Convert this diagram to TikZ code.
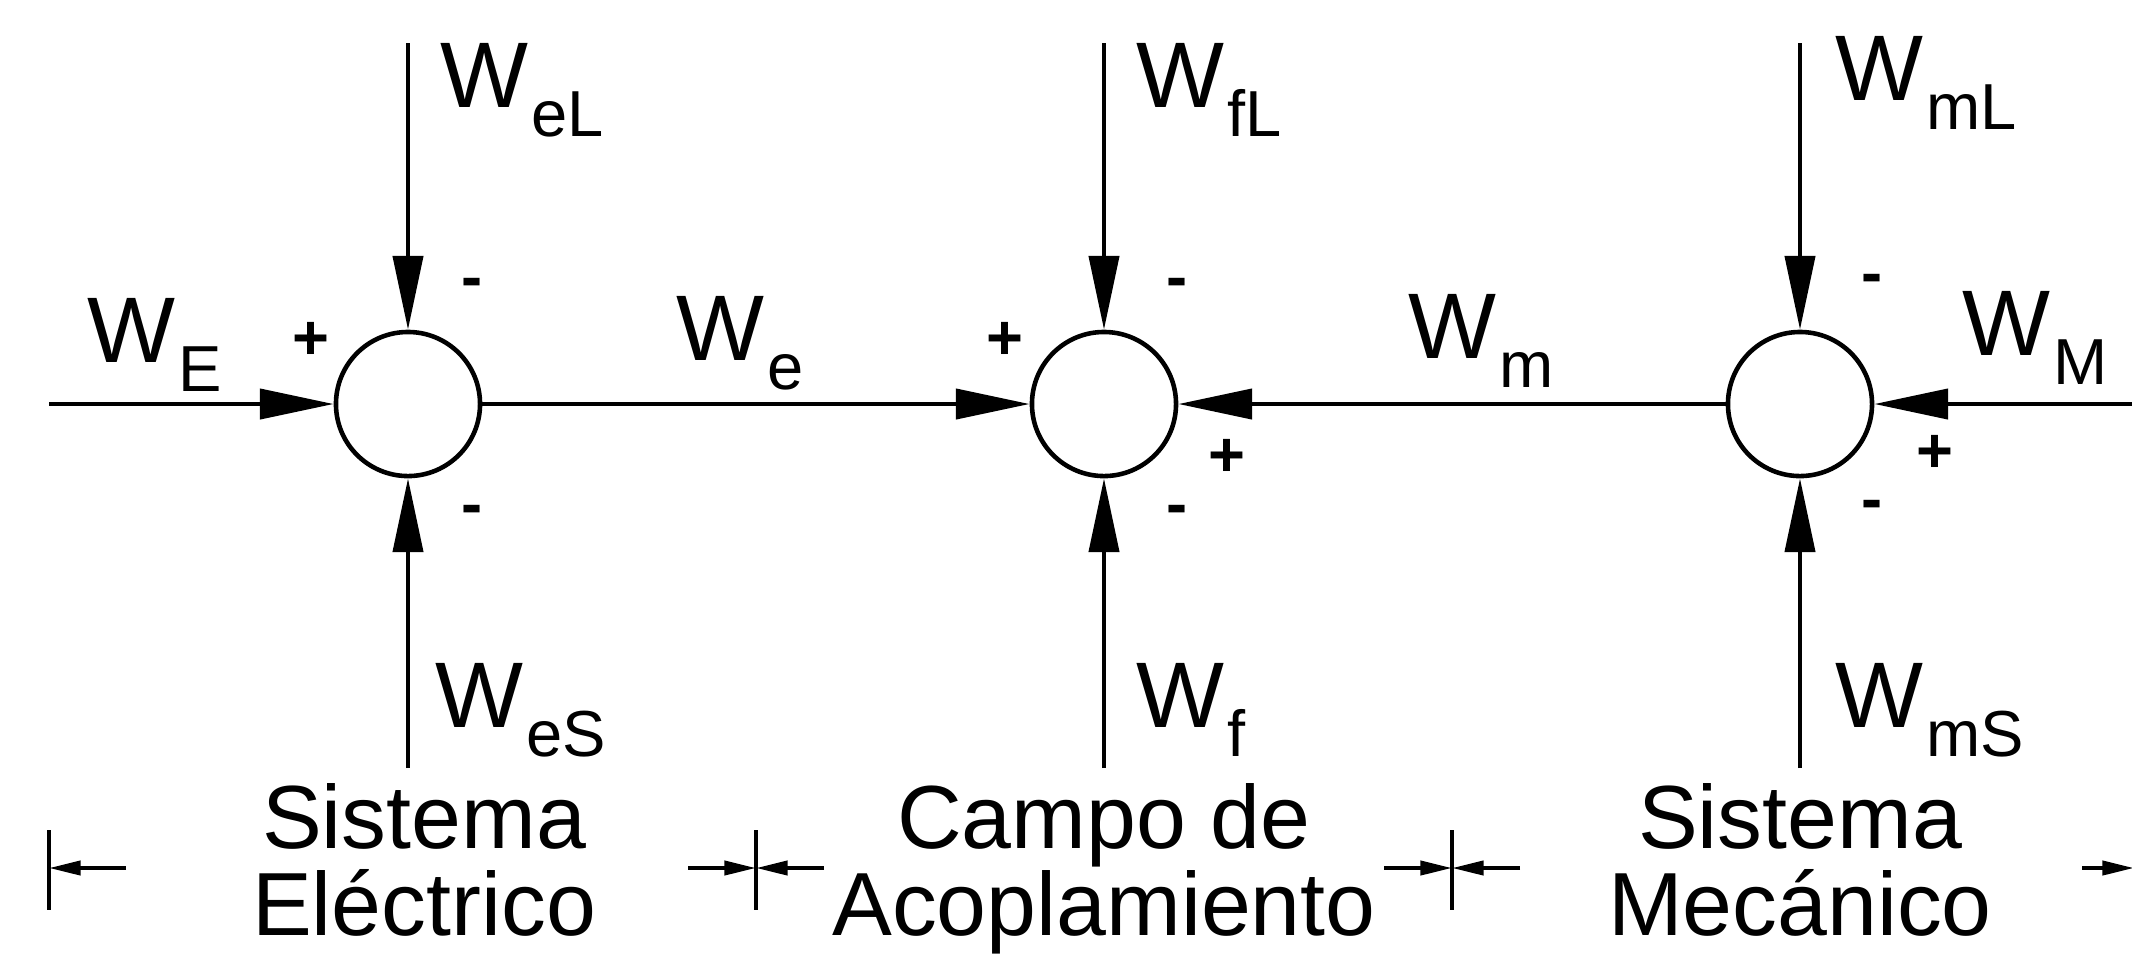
\documentclass[tikz,border=0pt]{standalone}
\usepackage{fontspec}
\setmainfont{Liberation Sans}
\usetikzlibrary{arrows.meta, positioning}

\newcommand{\Wsub}[1]{W\kern0.8pt\raisebox{-8.5pt}{\fontsize{18.5}{18.5}\selectfont #1}}

\begin{document}
\begin{tikzpicture}[x=0.01cm, y=-0.01cm,
    flow/.style={line width=1.3pt, -{Triangle[length=21pt, width=8.5pt]}},
    junct/.style={circle, draw, line width=1.3pt, minimum size=1.44cm, inner sep=0pt},
    wlab/.style={anchor=base west, inner sep=0pt, font=\fontsize{26.5}{26.5}\selectfont},
    sgn/.style={inner sep=0pt, font=\bfseries\fontsize{18}{18}\selectfont},
    region/.style={align=center, inner sep=0pt, anchor=base, font=\fontsize{25.5}{24.5}\selectfont},
    tick/.style={line width=1.1pt},
    dimarr/.style={line width=1.1pt, -{Triangle[length=9pt, width=4pt]}},
  ]
  \useasboundingbox (0,0) rectangle (2132,956);

  % summing junctions
  \node[junct] (sumE) at (408,404) {};
  \node[junct] (sumF) at (1104,404) {};
  \node[junct] (sumM) at (1800,404) {};

  % free ends
  \coordinate (inE)  at (49,404);
  \coordinate (inM)  at (2140,404);
  \coordinate (topE) at (408,43);
  \coordinate (topF) at (1104,43);
  \coordinate (topM) at (1800,43);
  \coordinate (botE) at (408,768);
  \coordinate (botF) at (1104,768);
  \coordinate (botM) at (1800,768);

  % energy flows
  \draw[flow] (inE) -- (sumE.west);
  \draw[flow] (sumE.east) -- (sumF.west);
  \draw[flow] (sumM.west) -- (sumF.east);
  \draw[flow] (inM) -- (sumM.east);
  \foreach \s in {E,F,M} {
    \draw[flow] (top\s) -- (sum\s.north);
    \draw[flow] (bot\s) -- (sum\s.south);
  }

  % labels
  \node[wlab] (lWE)  at (87,362)   {\Wsub{E}};
  \node[wlab] (lWe)  at (676,360)  {\Wsub{e}};
  \node[wlab] (lWm)  at (1408,358) {\Wsub{m}};
  \node[wlab] (lWM)  at (1962,355) {\Wsub{M}};
  \node[wlab] (lWeL) at (440,107)  {\Wsub{eL}};
  \node[wlab] (lWfL) at (1136,107) {\Wsub{fL}};
  \node[wlab] (lWmL) at (1835,100) {\Wsub{mL}};
  \node[wlab] (lWeS) at (435,727)  {\Wsub{eS}};
  \node[wlab] (lWf)  at (1136,727) {\Wsub{f}};
  \node[wlab] (lWmS) at (1835,727) {\Wsub{mS}};

  % signs
  \node[sgn] (pE)  at (311,341)  {+};
  \node[sgn] (nEt) at (472,288)  {-};
  \node[sgn] (nEb) at (472,515)  {-};
  \node[sgn] (pFl) at (1005,341) {+};
  \node[sgn] (nFt) at (1177,288) {-};
  \node[sgn] (pFr) at (1227,458) {+};
  \node[sgn] (nFb) at (1177,515) {-};
  \node[sgn] (nMt) at (1872,284) {-};
  \node[sgn] (pMr) at (1935,454) {+};
  \node[sgn] (nMb) at (1872,510) {-};

  % regions
  \node[region] (regE) at (424,935)  {Sistema\\Eléctrico};
  \node[region] (regF) at (1104,935) {Campo de\\Acoplamiento};
  \node[region] (regM) at (1800,935) {Sistema\\Mecánico};

  % region limits
  \draw[tick] (49,830) -- (49,910);
  \draw[dimarr] (126,868) -- (49,868);
  \foreach \bx in {756,1452} {
    \draw[tick] (\bx,830) -- (\bx,910);
    \draw[dimarr] (\bx-68,868) -- (\bx,868);
    \draw[dimarr] (\bx+68,868) -- (\bx,868);
  }
  \draw[dimarr] (2082,868) -- (2134,868);
\end{tikzpicture}
\end{document}
